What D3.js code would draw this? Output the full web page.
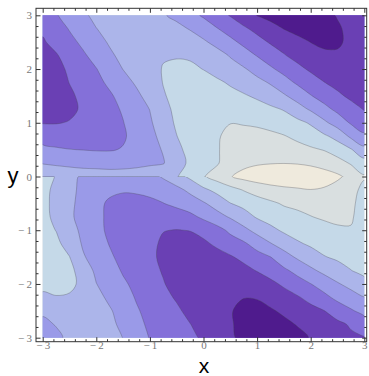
<!DOCTYPE html>
<html>
<head>
<meta charset="utf-8">
<script src="https://cdn.jsdelivr.net/npm/d3@7"></script>
<style>
  body { margin: 0; background: #fff; }
</style>
</head>
<body>
<svg id="chart" width="369" height="376"></svg>
<script>
// tick values on the frame
const xTicks = [-3, -2, -1, 0, 1, 2, 3];
const yTicks = [-3, -2, -1, 0, 1, 2, 3];

// contour levels and the fill of each band (lightest -> darkest)
const levels = [1, 2, 3, 4, 5, 6, 7];
const bandColors = ["#efeadd", "#d9dfe0", "#c5d9e8", "#acb5ea", "#9a9ae8", "#8470d9", "#6a40b4", "#4f1b8d"];

// values, x = -3..3 step 0.25
// upper half: rows y = 3 .. 0 (step 0.25)
const upperRows = [
  [5.5, 5.07, 4.63, 4.18, 3.75, 3.5, 3.35, 3.35, 3.55, 3.9, 4.27, 4.68, 5.12, 5.59, 6.06, 6.53, 7.02, 7.3, 7.45, 7.45, 7.35, 7.2, 6.95, 6.75, 6.65],
  [5.85, 5.45, 4.94, 4.48, 4.02, 3.7, 3.45, 3.3, 3.3, 3.45, 3.7, 4.07, 4.5, 4.95, 5.4, 5.85, 6.26, 6.64, 7.02, 7.3, 7.4, 7.3, 7.1, 6.8, 6.6],
  [6.1, 5.73, 5.27, 4.81, 4.33, 3.9, 3.6, 3.4, 3.25, 3.2, 3.25, 3.45, 3.85, 4.3, 4.75, 5.22, 5.67, 6.09, 6.4, 6.7, 7.01, 7.15, 7.1, 6.85, 6.6],
  [6.4, 6.08, 5.62, 5.15, 4.66, 4.16, 3.75, 3.45, 3.2, 3.07, 3.05, 3.1, 3.3, 3.6, 4.07, 4.56, 5.04, 5.48, 5.93, 6.3, 6.6, 6.85, 6.9, 6.75, 6.55],
  [6.5, 6.3, 5.84, 5.44, 5.03, 4.52, 3.98, 3.65, 3.3, 2.95, 2.85, 2.85, 3.02, 3.3, 3.6, 3.9, 4.35, 4.86, 5.3, 5.75, 6.15, 6.45, 6.6, 6.6, 6.5],
  [6.55, 6.4, 5.98, 5.62, 5.24, 4.83, 4.35, 3.87, 3.42, 2.97, 2.75, 2.7, 2.7, 2.85, 3.1, 3.42, 3.73, 4.09, 4.63, 5.14, 5.56, 5.98, 6.3, 6.5, 6.5],
  [6.6, 6.45, 6.15, 5.8, 5.46, 5.12, 4.69, 4.2, 3.65, 3.07, 2.75, 2.6, 2.55, 2.6, 2.75, 2.9, 3.15, 3.51, 3.88, 4.39, 4.95, 5.39, 5.81, 6.2, 6.4],
  [6.6, 6.45, 6.2, 5.88, 5.56, 5.25, 4.91, 4.45, 3.98, 3.26, 2.8, 2.55, 2.4, 2.35, 2.35, 2.45, 2.6, 2.8, 3.06, 3.58, 4.12, 4.71, 5.22, 5.63, 6.05],
  [6.05, 6.05, 5.95, 5.8, 5.54, 5.29, 5.03, 4.56, 4.12, 3.49, 2.85, 2.45, 2.2, 2.08, 2.02, 2.07, 2.15, 2.3, 2.5, 2.75, 3.1, 3.8, 4.45, 5.1, 5.57],
  [5.35, 5.45, 5.5, 5.5, 5.45, 5.3, 5.1, 4.71, 4.27, 3.71, 3.02, 2.5, 2.25, 2.08, 1.8, 1.7, 1.7, 1.8, 1.95, 2.2, 2.55, 2.85, 3.3, 4.2, 4.8],
  [4.8, 4.9, 4.98, 5.02, 5.06, 5.06, 4.95, 4.6, 4.25, 3.95, 3.2, 2.75, 2.45, 2.1, 1.6, 1.45, 1.4, 1.45, 1.55, 1.7, 1.85, 2.05, 2.5, 2.92, 3.7],
  [4.05, 4.15, 4.25, 4.35, 4.4, 4.45, 4.4, 4.3, 4.15, 4.05, 3.45, 2.8, 2.45, 2.1, 1.5, 1.25, 1.1, 1.04, 1.02, 1.05, 1.15, 1.35, 1.6, 2.1, 2.6],
  [3.3, 3.35, 3.4, 3.45, 3.45, 3.5, 3.5, 3.45, 3.4, 3.3, 3.05, 2.6, 2.05, 1.6, 1.05, 0.7, 0.5, 0.4, 0.35, 0.4, 0.45, 0.6, 0.85, 1.25, 1.9]
];

// lower half: rows y = 0 .. -3 (step 0.25)
const lowerRows = [
  [2.6, 3.05, 3.65, 4.2, 4.4, 4.5, 4.5, 4.45, 4.3, 3.9, 3.4, 2.8, 2.1, 1.6, 1.05, 0.7, 0.5, 0.4, 0.35, 0.4, 0.45, 0.6, 0.85, 1.25, 1.9],
  [2.75, 3.2, 3.73, 4.25, 4.55, 4.8, 4.9, 4.85, 4.7, 4.5, 4.25, 3.8, 3.2, 2.74, 2.35, 1.95, 1.6, 1.35, 1.2, 1.1, 1.02, 1.1, 1.35, 1.7, 2.25],
  [2.75, 3.25, 3.8, 4.3, 4.75, 5.15, 5.35, 5.35, 5.25, 5.02, 4.7, 4.45, 4.1, 3.6, 3.02, 2.72, 2.44, 2.17, 1.9, 1.8, 1.75, 1.75, 1.8, 1.9, 2.2],
  [2.75, 3.2, 3.85, 4.3, 4.75, 5.2, 5.45, 5.6, 5.65, 5.7, 5.6, 5.25, 4.8, 4.35, 3.9, 3.4, 2.9, 2.6, 2.4, 2.2, 2.02, 1.9, 1.85, 1.95, 2.2],
  [2.7, 3.02, 3.65, 4.2, 4.7, 5.2, 5.5, 5.75, 5.9, 5.98, 6.02, 5.98, 5.75, 5.35, 4.8, 4.25, 3.7, 3.25, 2.85, 2.6, 2.4, 2.25, 2.1, 2.03, 2.25],
  [2.55, 2.8, 3.35, 4.1, 4.55, 5.05, 5.4, 5.65, 5.85, 6.1, 6.25, 6.25, 6.15, 5.85, 5.45, 5.15, 4.6, 4.05, 3.58, 3.13, 2.85, 2.65, 2.5, 2.4, 2.45],
  [2.45, 2.7, 2.98, 3.9, 4.4, 4.85, 5.3, 5.6, 5.85, 6.15, 6.35, 6.45, 6.4, 6.3, 6.1, 5.75, 5.37, 5.02, 4.4, 3.87, 3.46, 3.05, 2.85, 2.7, 2.6],
  [2.4, 2.55, 2.75, 3.43, 4.2, 4.6, 5.1, 5.45, 5.75, 6.07, 6.35, 6.5, 6.6, 6.6, 6.5, 6.3, 5.95, 5.57, 5.18, 4.72, 4.19, 3.76, 3.38, 3.02, 2.75],
  [2.8, 2.7, 2.8, 3.2, 3.98, 4.45, 4.85, 5.25, 5.6, 5.95, 6.3, 6.55, 6.7, 6.8, 6.85, 6.85, 6.6, 6.25, 5.83, 5.42, 5.02, 4.55, 4.09, 3.7, 3.3],
  [3.15, 3.05, 3.1, 3.3, 3.7, 4.2, 4.6, 5.08, 5.45, 5.75, 6.1, 6.45, 6.7, 6.85, 6.95, 6.98, 6.95, 6.7, 6.45, 6.1, 5.7, 5.26, 4.75, 4.4, 4.02],
  [3.85, 3.65, 3.55, 3.6, 3.75, 3.9, 4.4, 4.9, 5.3, 5.6, 5.85, 6.25, 6.55, 6.75, 6.95, 7.2, 7.25, 7.1, 6.85, 6.6, 6.3, 6.02, 5.56, 5.11, 4.7],
  [4.2, 3.95, 3.75, 3.65, 3.7, 3.85, 4.15, 4.7, 5.2, 5.5, 5.75, 5.98, 6.35, 6.65, 6.9, 7.3, 7.45, 7.4, 7.2, 6.95, 6.71, 6.45, 6.2, 5.9, 5.5],
  [4.4, 4.2, 3.8, 3.6, 3.55, 3.65, 4.02, 4.5, 5.05, 5.35, 5.6, 5.85, 6.1, 6.45, 6.85, 7.25, 7.5, 7.55, 7.45, 7.25, 6.95, 6.6, 6.35, 6.15, 6.05]
];

const nx = upperRows[0].length, ny = upperRows.length;
const lineColor = "rgba(70,70,80,0.45)";

// frame box in pixels
const frame = { left: 36, right: 366.7, top: 8.3, bottom: 341.7 };

const svg = d3.select("#chart");
const x = d3.scaleLinear().domain([-3, 3]).range([42.7, 364.3]);
const y = d3.scaleLinear().domain([-3, 3]).range([337.7, 15.3]);

const defs = svg.append("defs");
const contours = d3.contours().size([nx, ny]).thresholds(levels);

// the two halves overlap a little at y = 0 so no gap shows
function drawHalf(rows, yTop, yBottom, id, padTop, padBottom) {
  const top = y(yTop) - padTop, bottom = y(yBottom) + padBottom;
  defs.append("clipPath").attr("id", id).append("rect")
    .attr("x", x(-3)).attr("y", top)
    .attr("width", x(3) - x(-3)).attr("height", bottom - top);

  // grid coordinates -> pixels (sample i sits at i + 0.5)
  const gx = d3.scaleLinear().domain([0.5, nx - 0.5]).range([x(-3), x(3)]);
  const gy = d3.scaleLinear().domain([0.5, ny - 0.5]).range([y(yTop), y(yBottom)]);
  const ringLine = d3.line().x(p => gx(p[0])).y(p => gy(p[1]))
    .curve(d3.curveCatmullRomClosed.alpha(0.5));

  const g = svg.append("g").attr("clip-path", `url(#${id})`);
  g.append("rect")
    .attr("x", x(-3)).attr("y", top)
    .attr("width", x(3) - x(-3)).attr("height", bottom - top)
    .attr("fill", bandColors[0]);

  g.selectAll("path")
    .data(contours(rows.flat()))
    .join("path")
    .attr("d", c => c.coordinates.map(poly => poly.map(ring => ringLine(ring.slice(0, -1))).join("")).join(""))
    .attr("fill", (c, i) => bandColors[i + 1])
    .attr("fill-rule", "evenodd")
    .attr("stroke", lineColor)
    .attr("stroke-width", 0.7);
}

drawHalf(lowerRows, 0, -3, "clipLower", 0, 0);
drawHalf(upperRows, 3, 0, "clipUpper", 0, 0.6);

// contour line along y = 0 where the two halves fall in different bands
const bandOf = v => d3.bisect(levels, v);
const seam = d3.range(-3, 3.0001, 0.01).map(t => {
  const i = (t + 3) / 0.25, i0 = Math.min(nx - 2, Math.floor(i)), f = i - i0;
  const up = upperRows[ny - 1][i0] * (1 - f) + upperRows[ny - 1][i0 + 1] * f;
  const lo = lowerRows[0][i0] * (1 - f) + lowerRows[0][i0 + 1] * f;
  return { t, diff: bandOf(up) !== bandOf(lo) };
});
svg.append("path")
  .attr("d", d3.line().defined(d => d.diff).x(d => x(d.t)).y(() => y(0))(seam))
  .attr("fill", "none")
  .attr("stroke", lineColor)
  .attr("stroke-width", 0.7);

// frame
svg.append("rect")
  .attr("x", frame.left).attr("y", frame.top)
  .attr("width", frame.right - frame.left).attr("height", frame.bottom - frame.top)
  .attr("fill", "none").attr("stroke", "#333").attr("stroke-width", 1);

const minorTicks = d3.range(-30, 31, 2).map(d => d / 10).filter(d => d % 1 !== 0);
const fmt = d => d < 0 ? "\u2212\u2009" + (-d) : String(d);

function styleAxis(g) {
  g.select(".domain").remove();
  g.selectAll("line").attr("stroke", "#333");
  g.selectAll("text")
    .attr("fill", "#777")
    .style("font-family", "'Liberation Serif', 'DejaVu Serif', serif")
    .style("font-size", "11px");
}

// bottom
svg.append("g").attr("transform", `translate(0,${frame.bottom})`)
  .call(d3.axisBottom(x).tickValues(xTicks).tickSize(-4.5).tickPadding(-1).tickFormat(fmt))
  .call(styleAxis);
svg.append("g").attr("transform", `translate(0,${frame.bottom})`)
  .call(d3.axisBottom(x).tickValues(minorTicks).tickSize(-2.5).tickFormat(""))
  .call(styleAxis);
// top
svg.append("g").attr("transform", `translate(0,${frame.top})`)
  .call(d3.axisTop(x).tickValues(xTicks).tickSize(-4.5).tickFormat(""))
  .call(styleAxis);
svg.append("g").attr("transform", `translate(0,${frame.top})`)
  .call(d3.axisTop(x).tickValues(minorTicks).tickSize(-2.5).tickFormat(""))
  .call(styleAxis);
// left
svg.append("g").attr("transform", `translate(${frame.left},0)`)
  .call(d3.axisLeft(y).tickValues(yTicks).tickSize(-4.5).tickPadding(4).tickFormat(fmt))
  .call(styleAxis);
svg.append("g").attr("transform", `translate(${frame.left},0)`)
  .call(d3.axisLeft(y).tickValues(minorTicks).tickSize(-2.5).tickFormat(""))
  .call(styleAxis);
// right
svg.append("g").attr("transform", `translate(${frame.right},0)`)
  .call(d3.axisRight(y).tickValues(yTicks).tickSize(-4.5).tickFormat(""))
  .call(styleAxis);
svg.append("g").attr("transform", `translate(${frame.right},0)`)
  .call(d3.axisRight(y).tickValues(minorTicks).tickSize(-2.5).tickFormat(""))
  .call(styleAxis);

// axis titles
svg.append("text")
  .attr("x", 204).attr("y", 373)
  .attr("text-anchor", "middle")
  .style("font-family", "'Liberation Sans', Arial, sans-serif")
  .style("font-size", "21px")
  .text("x");
svg.append("text")
  .attr("x", 13).attr("y", 183)
  .attr("text-anchor", "middle")
  .style("font-family", "'Liberation Sans', Arial, sans-serif")
  .style("font-size", "22px")
  .text("y");
</script>
</body>
</html>
